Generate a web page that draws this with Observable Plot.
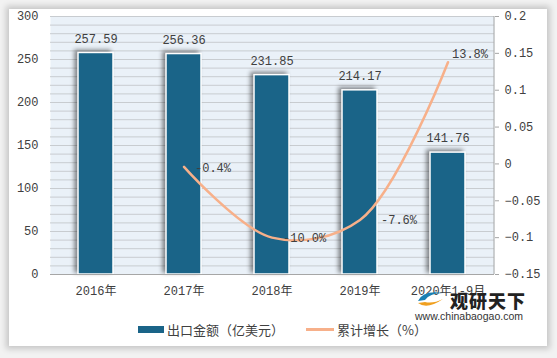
<!DOCTYPE html>
<html><head><meta charset="utf-8">
<script src="https://cdn.jsdelivr.net/npm/d3@7"></script>
<script src="https://cdn.jsdelivr.net/npm/@observablehq/plot@0.6"></script>
<style>
html,body{margin:0;padding:0;background:#f4f4f4;}
#wrap{position:relative;width:557px;height:358px;overflow:hidden;background:#f2f2f2;}
#card{position:absolute;left:9px;top:9px;width:538px;height:337px;background:#fff;box-shadow:0 0 6px 3px rgba(0,0,0,0.18);}
#chart{position:absolute;left:0;top:0;}
.leg{position:absolute;top:320px;font:13px "Noto Sans CJK SC",sans-serif;color:#404040;display:flex;align-items:center;white-space:nowrap;}
.logo{position:absolute;font-family:"Noto Sans CJK SC",sans-serif;color:#222;white-space:nowrap;}
</style></head>
<body><div id="wrap"><div id="card"></div><div id="chart"></div>
<div class="leg" style="left:138px"><span style="display:inline-block;width:26px;height:7px;background:#1a6488;margin-right:3px"></span>出口金额（亿美元）</div>
<div class="leg" style="left:306px"><span style="display:inline-block;width:28px;height:3px;background:#f7b08a;margin-right:3px"></span>累计增长（%）</div>
<div class="logo" style="left:450px;top:288px;font-size:18px;line-height:24px;font-weight:900;letter-spacing:1px">观研天下</div>
<div class="logo" style="left:415px;top:310px;font-size:10.5px;line-height:13px;font-family:'Liberation Sans',sans-serif;color:#333">www.chinabaogao.com</div>
<svg style="position:absolute;left:415px;top:290px" width="32" height="19" viewBox="0 0 32 19"><path d="M3 11 Q8 0 28 3 Q15 3 10 10Z" fill="#1a7fb3"/><path d="M3 13 Q12 20 28 9 Q18 14 10 12Z" fill="#f0a020"/></svg>
</div>
<script>
const years = ["2016年","2017年","2018年","2019年","2020年1-9月"];
const exportValues = [257.59, 256.36, 231.85, 214.17, 141.76];
const growthYears = ["2017年","2018年","2019年","2020年1-9月"];
const growthValues = [-0.004, -0.100, -0.076, 0.138];
const growthLabels = ["-0.4%","-10.0%","-7.6%","13.8%"];
const leftTicks = [0,50,100,150,200,250,300];
const rightTicks = [-0.15,-0.1,-0.05,0,0.05,0.1,0.15,0.2];

const gMin = -0.15, gMax = 0.2, yMax = 300;
const toY = g => (g - gMin) / (gMax - gMin) * yMax;

const bars = years.map((c,i)=>({c, v: exportValues[i]}));
const growth = growthYears.map((c,i)=>({c, g: growthValues[i], y: toY(growthValues[i]), label: growthLabels[i]}));
const mono = "'Liberation Mono','DejaVu Sans Mono',monospace";
const labelDx = {"2017年": 11, "2018年": 11, "2019年": 21, "2020年1-9月": 4};
const labelDy = {"2017年": 1, "2018年": 1, "2019年": 0, "2020年1-9月": -8};

const plot = Plot.plot({
  width: 557, height: 358,
  marginLeft: 50, marginRight: 63, marginTop: 16, marginBottom: 84,
  style: {background: "transparent", fontFamily: mono, fontSize: "12px", color: "#404040"},
  x: {domain: years, paddingInner: 0.6, paddingOuter: 0.3, label: null},
  y: {domain: [0, yMax], label: null},
  marks: [
    Plot.frame({fill: "#eaf1f8", stroke: null}),
    Plot.ruleY(d3.range(0, yMax + 1, 10), {stroke: "#c8ccd0", strokeWidth: 1}),
    Plot.barY(bars, {x: "c", y: "v", fill: "#1a6488", stroke: "#fff", strokeWidth: 1.5,
      render: (i, s, v, d, c, next) => { const g = next(i, s, v, d, c); g.style.filter = "drop-shadow(-3px -2px 2px rgba(0,0,0,0.45))"; return g; }}),
    Plot.text(bars, {x: "c", y: "v", text: d => d.v.toFixed(2), dy: -14, fontSize: 12, fill: "#404040"}),
    Plot.line(growth, {x: "c", y: "y", curve: "catmull-rom", stroke: "#f7b08a", strokeWidth: 2.5}),
    ...growth.map(d => Plot.text([d], {x: "c", y: "y", text: "label", fontSize: 12, fill: "#404040", textAnchor: "start",
      dx: labelDx[d.c], dy: labelDy[d.c]})),
    Plot.ruleY([0], {stroke: "#a6a6a6"}),
    Plot.axisY(leftTicks, {anchor: "left", tickSize: 0, tickPadding: 12, fontSize: 12, fontFamily: mono, fill: "#404040"}),
    Plot.axisY(rightTicks.map(toY), {anchor: "right", tickSize: 4, tickPadding: 6, stroke: "#a6a6a6",
      tickFormat: v => { const g = +(v / yMax * (gMax - gMin) + gMin).toFixed(2); return g < 0 ? "\u2212" + String(-g) : String(g); },
      fontSize: 12, fontFamily: mono, fill: "#404040"}),
    Plot.axisX({tickSize: 0, tickPadding: 12, fontSize: 12, fontFamily: "'Liberation Mono','Noto Sans CJK SC',monospace", fill: "#404040"})
  ]
});
const svg = d3.select(plot);
svg.append("line").attr("x1", 494).attr("x2", 494).attr("y1", 16).attr("y2", 274).attr("stroke", "#a6a6a6");
document.getElementById("chart").appendChild(plot);
</script>
</body></html>
